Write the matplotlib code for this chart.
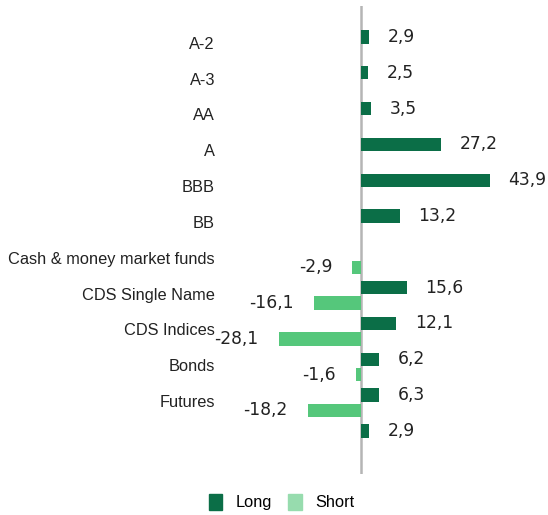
import numpy as np
import matplotlib
matplotlib.use("Agg")
import matplotlib.pyplot as plt
from matplotlib.patches import Patch

plt.rcParams['font.family'] = ['Liberation Sans', 'DejaVu Sans']

categories = ["A-2", "A-3", "AA", "A", "BBB", "BB", "Cash & money market funds",
              "CDS Single Name", "CDS Indices", "Bonds", "Futures", ""]
long_vals = [2.9, 2.5, 3.5, 27.2, 43.9, 13.2, np.nan, 15.6, 12.1, 6.2, 6.3, 2.9]
short_vals = [np.nan, np.nan, np.nan, np.nan, np.nan, np.nan, -2.9, -16.1, -28.1, -1.6, -18.2, np.nan]

LONG_C = "#0b6e47"
SHORT_C = "#55c77b"
SHORT_LEG = "#97dcae"
TXT = "#222222"

W, H = 548, 515
fig = plt.figure(figsize=(W / 100, H / 100), dpi=100)
ax = fig.add_axes([222 / W, (H - 474) / H, 318 / W, 468 / H])

y = np.arange(len(categories))
bh = 0.374
off = 0.215
ax.barh(y - off, long_vals, height=bh, color=LONG_C)
ax.barh(y + off, short_vals, height=bh, color=SHORT_C)

ax.set_xlim(-47.4, 61.1)
ax.set_ylim(11.99, -1.08)

def fmt(v):
    return f"{v:.1f}".replace(".", ",")

num_font = dict(fontsize=12.3, family="DejaVu Sans", color=TXT)
for yi, v in zip(y, long_vals):
    if not np.isnan(v):
        ax.annotate(fmt(v), (v, yi - off), xytext=(13.5, 0), textcoords="offset points",
                    ha="left", va="center", **num_font)
for yi, v in zip(y, short_vals):
    if not np.isnan(v):
        ax.annotate(fmt(v), (v, yi + off), xytext=(-14.5, 0), textcoords="offset points",
                    ha="right", va="center", **num_font)

ax.set_yticks(y - 0.05)
ax.set_yticklabels(categories, fontsize=11.8, color=TXT)
ax.tick_params(axis="y", length=0, pad=5)
ax.set_xticks([])
for s in ax.spines.values():
    s.set_visible(False)
ax.axvline(0, color="#b5b5b5", lw=1.8, zorder=0)

handles = [Patch(color=LONG_C, label="Long"), Patch(color=SHORT_LEG, label="Short")]
fig.legend(handles=handles, loc="center", bbox_to_anchor=(281.5 / W, 1 - 502 / H),
           ncol=2, frameon=False, fontsize=11.8, handlelength=0.85, handleheight=1.1,
           handletextpad=0.8, columnspacing=1.0)

fig.savefig("out.png", dpi=100)
